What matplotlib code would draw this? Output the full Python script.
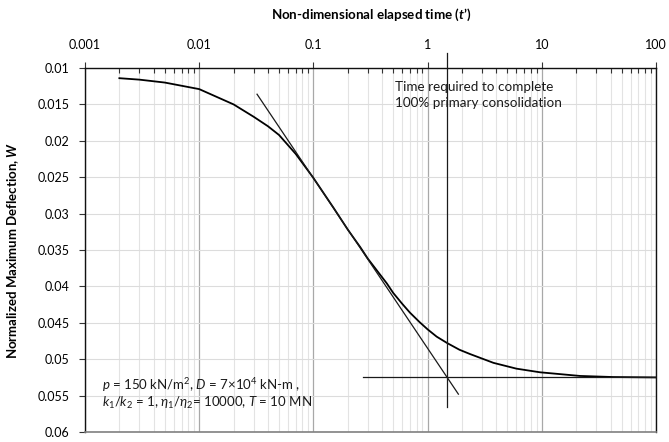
import numpy as np
import matplotlib
matplotlib.use('Agg')
import matplotlib.pyplot as plt

plt.rcParams['font.family'] = ['Lato', 'DejaVu Sans']
plt.rcParams['mathtext.fontset'] = 'custom'
plt.rcParams['mathtext.rm'] = 'Lato'
plt.rcParams['mathtext.it'] = 'Lato:italic'
plt.rcParams['mathtext.bf'] = 'Lato:bold'
plt.rcParams['mathtext.bfit'] = 'Lato:bold:italic'

# curve (non-dimensional time vs normalized deflection)
t_curve = [0.002, 0.003, 0.005, 0.01, 0.02, 0.03, 0.04, 0.05, 0.07, 0.1, 0.15, 0.2,
           0.257, 0.3, 0.44, 0.5, 0.6, 0.7, 0.85, 1, 1.2, 1.49, 1.9, 2.36, 3.77, 6, 9.66, 21.6, 42, 100]
w_curve = [0.0114, 0.0116, 0.0120, 0.0129, 0.0150, 0.0167, 0.0180, 0.0192, 0.0218, 0.0251,
           0.0292, 0.0322, 0.0346, 0.0362, 0.0396, 0.0409, 0.0424, 0.0436, 0.0449, 0.0459,
           0.0469, 0.0478, 0.0487, 0.0493, 0.0505, 0.0513, 0.0518, 0.0523, 0.05245, 0.0525]

# construction lines
tangent_t = [0.0321, 1.86]
tangent_w = [0.0136, 0.0548]
t100 = 1.47
w_vert = [0.0080, 0.0565]
w_final = 0.0525
t_horiz = [0.274, 100]

xticks = [0.001, 0.01, 0.1, 1, 10, 100]
xlabels = ['0.001', '0.01', '0.1', '1', '10', '100']
yticks = [0.01, 0.015, 0.02, 0.025, 0.03, 0.035, 0.04, 0.045, 0.05, 0.055, 0.06]
ylabels = ['0.01', '0.015', '0.02', '0.025', '0.03', '0.035', '0.04', '0.045', '0.05', '0.055', '0.06']

fig = plt.figure(figsize=(6.69, 4.42), dpi=100)
ax = fig.add_axes([85/669, 1-432/442, (656-85)/669, (432-68)/442])

ax.set_xscale('log')
ax.set_xlim(0.001, 100)
ax.set_ylim(0.06, 0.01)

# grid
ax.set_xticks(xticks)
ax.set_xticklabels(xlabels)
ax.set_xticks([m*10.0**e for e in range(-3, 2) for m in range(2, 10)], minor=True)
ax.set_yticks(yticks)
ax.set_yticklabels(ylabels)
ax.grid(True, which='minor', axis='x', color='#e3e3e3', lw=0.8)
ax.grid(True, which='major', axis='x', color='#a8a8a8', lw=0.9)
ax.grid(True, which='major', axis='y', color='#dcdcdc', lw=0.8)
ax.set_axisbelow(True)

ax.xaxis.tick_top()
ax.tick_params(axis='x', which='major', direction='out', length=4, width=0.8, labelsize=9, pad=8, color='#333333')
ax.tick_params(axis='x', which='minor', direction='in', length=3.5, width=0.8, color='#333333')
ax.tick_params(axis='y', which='major', direction='out', length=4, width=0.8, labelsize=9, pad=7, color='#333333')
ax.tick_params(axis='y', which='minor', left=False)

for s in ['top', 'left', 'right']:
    ax.spines[s].set_color('#111111')
    ax.spines[s].set_linewidth(1.0)
ax.spines['bottom'].set_color('#808080')
ax.spines['bottom'].set_linewidth(1.2)

# data
ax.plot(t_curve, w_curve, color='black', lw=1.3, zorder=4)
ax.plot(tangent_t, tangent_w, color='#1a1a1a', lw=0.9, zorder=4)
ax.plot([t100, t100], w_vert, color='#1a1a1a', lw=0.9, zorder=4, clip_on=False)
ax.plot(t_horiz, [w_final, w_final], color='#1a1a1a', lw=0.9, zorder=4)

ax.text(0.52, 0.01257, 'Time required to complete', fontsize=9.7, va='center', ha='left', color='#1a1a1a')
ax.text(0.52, 0.0148, '100% primary consolidation', fontsize=9.7, va='center', ha='left', color='#1a1a1a')

ax.text(0.00141, 0.05354, r'$p$ = 150 kN/m$^2$, $D$ = 7×10$^4$ kN-m ,', fontsize=9.5,
        va='center', ha='left', color='#1a1a1a')
ax.text(0.00141, 0.05601, r'$k_1$/$k_2$ = 1, $\eta_1$/$\eta_2$= 10000, $T$ = 10 MN', fontsize=9.5,
        va='center', ha='left', color='#1a1a1a')

fig.text(371/669, 1-15/442, r'Non-dimensional elapsed time ($\mathbfit{t}$’)', fontsize=9.6,
         fontweight='bold', ha='center', va='center')
fig.text(13/669, 1-250/442, r'Normalized Maximum Deflection, $\mathbfit{W}$', fontsize=9.5,
         fontweight='bold', ha='center', va='center', rotation=90)

fig.savefig('out.png', dpi=100)
